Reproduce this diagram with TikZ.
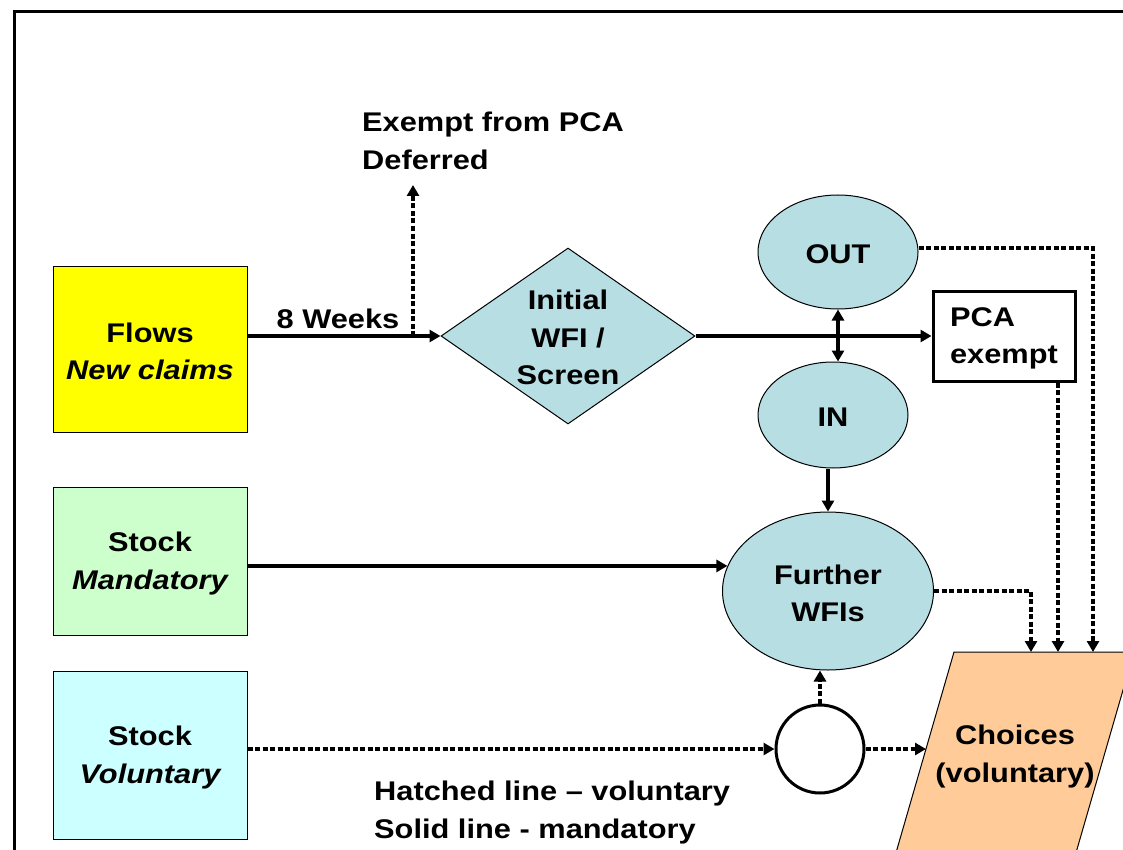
\documentclass[tikz,border=0pt]{standalone}
\usepackage{fontspec}
\setmainfont[FakeStretch=1.14]{Liberation Sans}
\usetikzlibrary{arrows.meta,shapes.geometric,calc}

\definecolor{flowyellow}{HTML}{FFFF00}
\definecolor{mandgreen}{HTML}{CCFFCC}
\definecolor{volcyan}{HTML}{CCFFFF}
\definecolor{wfiblue}{HTML}{B7DEE3}
\definecolor{choicepeach}{HTML}{FFCC99}

\tikzset{
  txt/.style={font=\fontsize{27}{37.5}\selectfont\bfseries, inner sep=0pt},
  lbl/.style={txt, align=center},
  inlbl/.style={lbl, yshift=-2.5pt},
  srcbox/.style={draw=black, line width=1pt, minimum width=194pt},
  wfi/.style={draw=black, line width=1pt, fill=wfiblue, inner sep=0pt},
  tip/.style={-{Triangle[length=11pt,width=12pt]}},
  mand/.style={line width=3.6pt, tip},
  vol/.style={line width=4pt, dash pattern=on 5pt off 2.5pt, tip},
}

\begin{document}
\begin{tikzpicture}[x=1pt, y=-1pt]
\useasboundingbox (0,0) rectangle (1123,850);
\clip (0,0) rectangle (1123,850);

% outer frame
\draw[line width=3pt] (14,12) rectangle (1140,880);

% sources
\node[srcbox, fill=flowyellow, minimum height=166pt, label={[inlbl]center:Flows\\\itshape New claims}] (FL) at (150,349) {};
\node[srcbox, fill=mandgreen, minimum height=148pt, label={[inlbl]center:Stock\\\itshape Mandatory}] (MS) at (150,561) {};
\node[srcbox, fill=volcyan, minimum height=168pt, label={[inlbl]center:Stock\\\itshape Voluntary}] (SV) at (150,755) {};

% screening
\node[wfi, diamond, aspect=1.44, minimum width=254pt, minimum height=176pt, label={[inlbl, yshift=1pt]center:Initial\\WFI /\\Screen}] (DI) at (568,336) {};
\node[wfi, ellipse, minimum width=160pt, minimum height=114pt, label={[inlbl]center:OUT}] (OUT) at (838,252) {};
\node[wfi, ellipse, minimum width=150pt, minimum height=106pt, label={[inlbl]center:IN}] (IN) at (833,415) {};
\node[wfi, ellipse, minimum width=211pt, minimum height=158pt, label={[inlbl]center:Further\\WFIs}] (FW) at (828,591) {};
\node[draw=black, line width=3pt, fill=white, minimum width=142pt, minimum height=90pt,
      label={[txt, align=left, yshift=-2.5pt]center:PCA\\exempt}] (PCA) at (1004,336) {};
\node[draw=black, line width=3pt, circle, minimum size=88pt, inner sep=0pt] (CI) at (820,749) {};

% choices
\fill[choicepeach] (954,652) -- (1134,652) -- (1071,870) -- (891,870) -- cycle;
\draw[line width=1pt] (1134,652) -- (954,652) -- (891,870);
\draw[line width=1pt] (1134,652) -- (1071,870);
\node[inlbl] (CH) at (1015,754) {Choices\\(voluntary)};
\coordinate (chF) at (1031,652);
\coordinate (chP) at (1058,652);
\coordinate (chO) at (1093,652);
\coordinate (chL) at (926,749);

% labels
\node[lbl, align=left, anchor=north west] (EX) at (362,112) {Exempt from PCA\\Deferred};
\node[inlbl] (WK) at (338,316) {8 Weeks};
\node[lbl, align=left, anchor=north west] (LG) at (374,781) {Hatched line -- voluntary\\Solid line - mandatory};

% mandatory flows
\draw[mand] (FL.east |- DI.west) -- (DI.west);
\draw[mand] (DI.east) -- (PCA.west);
\draw[line width=3.6pt, {Triangle[length=11pt,width=12pt]}-{Triangle[length=11pt,width=12pt]}] (OUT.south) -- (OUT.south |- IN.north);
\draw[mand] (IN.south -| FW.north) -- (FW.north);
\draw[mand] (MS.east |- FW.166) -- (FW.166);

% voluntary flows
\coordinate (exS) at (413,336);
\coordinate (exT) at (413,185);
\draw[vol] (exS) -- (exT);
\draw[vol] (SV.east |- CI.west) -- (CI.west);
\draw[vol] (CI.east) -- (chL);
\draw[vol] (CI.north) -- (CI.north |- FW.south);
\draw[vol] (OUT.east |- 0,248) -| (chO);
\draw[vol] (FW.east) -| (chF);
\draw[vol] (PCA.south -| chP) -- (chP);
\end{tikzpicture}
\end{document}
